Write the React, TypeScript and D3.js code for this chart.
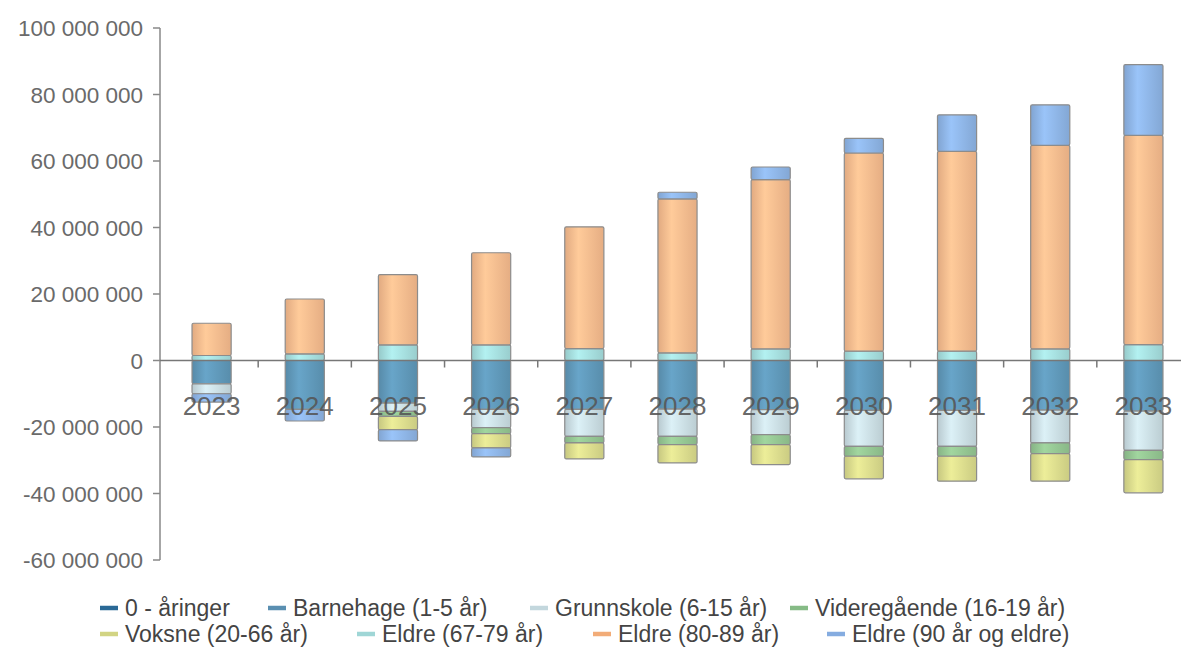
import React from "react";
import * as d3 from "d3";

const years = ["2023","2024","2025","2026","2027","2028","2029","2030","2031","2032","2033"];
const seriesNames = [
  "0 - åringer",
  "Barnehage (1-5 år)",
  "Grunnskole (6-15 år)",
  "Videregående (16-19 år)",
  "Voksne (20-66 år)",
  "Eldre (67-79 år)",
  "Eldre (80-89 år)",
  "Eldre (90 år og eldre)",
];
// values in millions
const nullAaringer = [0,0,0,0,0,0,0,0,0,0,0];
const barnehage = [-7.0,-14.7,-12.8,-14.7,-14.7,-14.6,-14.8,-15.0,-15.0,-14.9,-15.2];
const grunnskole = [-3.0,0,-2.5,-5.5,-8.1,-8.2,-7.5,-10.8,-10.8,-9.9,-11.8];
const videregaende = [0,0,-1.5,-1.8,-2.0,-2.5,-3.0,-3.0,-3.0,-3.2,-2.8];
const voksne = [0,0,-4.0,-4.3,-4.8,-5.5,-6.0,-6.8,-7.5,-8.3,-10.0];
const eldre6779 = [1.5,2.0,4.7,4.7,3.6,2.3,3.5,2.8,2.8,3.5,4.8];
const eldre8089 = [9.7,16.5,21.1,27.7,36.6,46.3,50.9,59.6,60.1,61.2,62.9];
const eldre90 = [-2.5,-3.5,-3.4,-2.7,0,2.0,3.8,4.4,11.0,12.2,21.3];
const yTicks = [-60e6,-40e6,-20e6,0,20e6,40e6,60e6,80e6,100e6];

const seriesValues = [nullAaringer, barnehage, grunnskole, videregaende, voksne, eldre6779, eldre8089, eldre90];
const colors = ["#2b6c99","#5f97b8","#c9dce2","#93c491","#d9da8c","#a4dcdc","#f6ba8d","#8db3e4"];
const legendColors = ["#2a6996","#5a8fb1","#c3d7dd","#86bb86","#d2d483","#9fd6d6","#f2ac78","#85ace0"];

const W = 1181, H = 650;
const x0 = 165, x1 = 1190, yTop = 28, yBot = 560, axisX = 160;

const locale = d3.formatLocale({ decimal: ",", thousands: " ", grouping: [3], currency: ["", ""], minus: "-" });
const fmt = locale.format(",d");

export default function App() {
  const rows = years.map((y, i) => {
    const r: any = { year: y };
    seriesNames.forEach((s, k) => (r[s] = seriesValues[k][i] * 1e6));
    return r;
  });
  const stacked = d3.stack<any>().keys(seriesNames).offset(d3.stackOffsetDiverging)(rows);
  const x = d3.scaleBand<string>().domain(years).range([x0, x1]).paddingInner(0.58).paddingOuter(0.29);
  const y = d3.scaleLinear().domain([-60e6, 100e6]).range([yBot, yTop]);
  const step = x.step();
  const font = "'Liberation Sans', Arial, sans-serif";

  const legendRows = [
    [{ k: 0, x: 100 }, { k: 1, x: 268 }, { k: 2, x: 530 }, { k: 3, x: 790 }],
    [{ k: 4, x: 100 }, { k: 5, x: 357 }, { k: 6, x: 593 }, { k: 7, x: 827 }],
  ];
  const legendY = [608, 634];

  return (
    <svg width={W} height={H} style={{ position: "absolute", left: 0, top: 0, background: "#fff" }} fontFamily={font}>
      <defs>
        {colors.map((c, i) => {
          const base = d3.color(c)!;
          return (
            <linearGradient id={`g${i}`} key={i} x1="0" x2="1" y1="0" y2="0">
              <stop offset="0" stopColor={base.darker(0.25).formatHex()} />
              <stop offset="0.35" stopColor={base.brighter(0.25).formatHex()} />
              <stop offset="1" stopColor={base.darker(0.2).formatHex()} />
            </linearGradient>
          );
        })}
      </defs>
      {stacked.map((layer, si) =>
        layer.map((d, i) => {
          const v0 = d[0], v1 = d[1];
          if (Math.abs(v1 - v0) < 1) return null;
          const top = y(Math.max(v0, v1));
          const h = Math.abs(y(v0) - y(v1));
          return (
            <rect
              key={`${si}-${i}`}
              x={x(years[i])!}
              y={top}
              width={x.bandwidth()}
              height={h}
              rx={1.5}
              fill={`url(#g${si})`}
              stroke="#8c8c8c"
              strokeWidth={1.2}
            />
          );
        })
      )}
      <line x1={axisX} x2={axisX} y1={y(100e6)} y2={y(-60e6)} stroke="#888" strokeWidth={1.5} />
      {yTicks.map((t) => (
        <g key={t}>
          <line x1={axisX - 7} x2={axisX} y1={y(t)} y2={y(t)} stroke="#888" strokeWidth={1.5} />
          <text x={143} y={y(t)} dy="0.36em" textAnchor="end" fontSize={22.5} fill="#6a6a6a">
            {fmt(t)}
          </text>
        </g>
      ))}
      <line x1={axisX} x2={W} y1={y(0)} y2={y(0)} stroke="#777" strokeWidth={1.6} />
      {years.slice(1).map((yr) => (
        <line key={yr} x1={x(yr)! - (step - x.bandwidth()) / 2} x2={x(yr)! - (step - x.bandwidth()) / 2} y1={y(0)} y2={y(0) + 7} stroke="#777" strokeWidth={1.5} />
      ))}
      {years.map((yr) => (
        <text key={yr} x={x(yr)! + x.bandwidth() / 2} y={415} textAnchor="middle" fontSize={26} fill="#555" fillOpacity={0.9}>
          {yr}
        </text>
      ))}
      {legendRows.map((row, ri) =>
        row.map(({ k, x: lx }) => (
          <g key={k}>
            <line x1={lx} x2={lx + 18} y1={legendY[ri]} y2={legendY[ri]} stroke={legendColors[k]} strokeWidth={4.5} />
            <text x={lx + 25} y={legendY[ri]} dy="0.36em" fontSize={23} fill="#444">
              {seriesNames[k]}
            </text>
          </g>
        ))
      )}
    </svg>
  );
}
